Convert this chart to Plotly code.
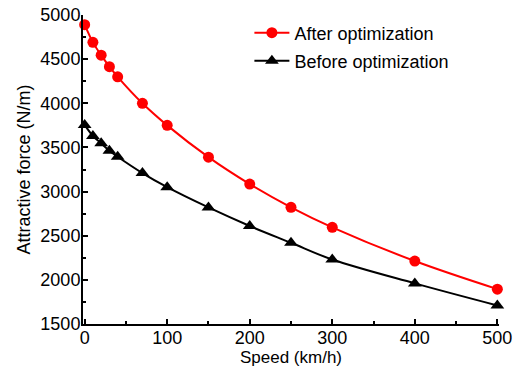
import plotly.graph_objects as go

speed = [0, 10, 20, 30, 40, 70, 100, 150, 200, 250, 300, 400, 500]
after_opt = [4890, 4690, 4545, 4415, 4300, 4000, 3750, 3390, 3085, 2822, 2595, 2213, 1895]
before_opt = [3755, 3630, 3547, 3463, 3395, 3210, 3050, 2820, 2610, 2420, 2230, 1960, 1710]

FONT = "Liberation Sans, Arial"

fig = go.Figure()
fig.add_trace(go.Scatter(x=speed, y=after_opt, name="After optimization", legend="legend", showlegend=True,
                         mode="lines+markers", line=dict(color="#ff0000", width=2, shape="spline"),
                         marker=dict(symbol="circle", size=11, color="#ff0000"), cliponaxis=False))
fig.add_trace(go.Scatter(x=speed, y=before_opt, name="Before optimization", legend="legend2", showlegend=True,
                         mode="lines+markers", line=dict(color="#000000", width=2, shape="spline"),
                         marker=dict(symbol="triangle-up", size=12, color="#000000"), cliponaxis=False))

axis_common = dict(showline=True, linecolor="black", linewidth=2, ticks="inside",
                   ticklen=5, tickwidth=2, tickcolor="black", showgrid=False, zeroline=False,
                   automargin=False,
                   tickfont=dict(family=FONT, size=18, color="black"))
fig.update_xaxes(range=[-2, 502], tickvals=[0, 100, 200, 300, 400, 500], ticklabelstandoff=-4,
                 minor=dict(ticks="inside", ticklen=3, tickwidth=1.5, tickcolor="black", dtick=50, tick0=0),
                 title=dict(text="Speed (km/h)", font=dict(family=FONT, size=17, color="black"), standoff=3),
                 **axis_common)
fig.update_yaxes(range=[1500, 5000], tickvals=[1500, 2000, 2500, 3000, 3500, 4000, 4500, 5000],
                 ticklabelstandoff=-3,
                 minor=dict(ticks="inside", ticklen=3, tickwidth=1.5, tickcolor="black", dtick=250, tick0=0),
                 title=dict(text="Attractive force (N/m)", font=dict(family=FONT, size=18, color="black"), standoff=5),
                 **axis_common)

leg = dict(xanchor="left", yanchor="middle", bgcolor="rgba(0,0,0,0)",
           font=dict(family=FONT, size=18, color="black"), itemwidth=35)
fig.update_layout(width=516, height=374, plot_bgcolor="white", paper_bgcolor="white",
                  margin=dict(l=83, r=17, t=15, b=50),
                  legend=dict(x=0.4, y=1 - (33 - 15) / 309, **leg),
                  legend2=dict(x=0.4, y=1 - (61 - 15) / 309, **leg))
fig.write_html("out.html", config={"displayModeBar": False},
               post_script="document.body.style.margin='0';")
